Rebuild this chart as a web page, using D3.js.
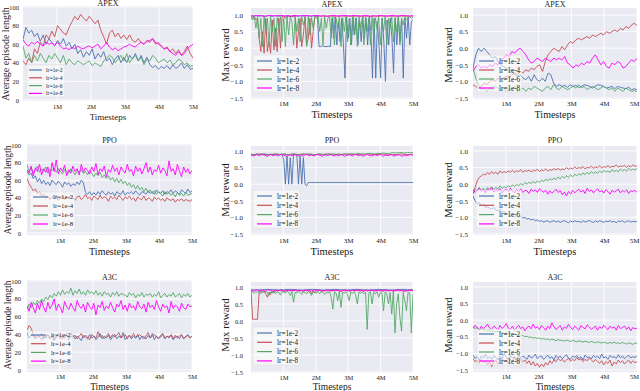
<!DOCTYPE html>
<html><head><meta charset="utf-8">
<script src="https://cdn.jsdelivr.net/npm/d3@7"></script>
<style>body{margin:0;background:#fff}svg{display:block}text{font-family:"Liberation Serif","Times New Roman",Times,serif;fill:#1a1a1a}</style>
</head><body><svg id="c" width="640" height="391"></svg>
<script>
const FONT = '"Liberation Serif","Times New Roman",Times,serif';
const seriesLabels = ["lr=1e-2","lr=1e-4","lr=1e-6","lr=1e-8"];
const seriesColors = ["#4C72B0","#C44E52","#55A868","#FF00FF"];
const xTickValues = [1e6,2e6,3e6,4e6,5e6];
const xTickLabels = ["1M","2M","3M","4M","5M"];
const lenTicks = [0,20,40,60,80,100];
const rewardTicks = [-1.5,-1.0,-0.5,0.0,0.5,1.0];
const algoTitles = ["APEX","PPO","A3C"];

// ---------- APEX : average episode length ----------
const apexLen_lr2 = [65,78,72,75,68,72,63,70,60,66,62,58,64,60,66,58,62,55,60,50,54,46,52,48,55,44,50,46,52,42,45,38,44,48,40,46,40,48,44,50,42,48,40,46,38,35,37,33,36,34,37,33,38,34,36,40,34,38,33,34];
const apexLen_lr4 = [42,38,45,40,55,50,62,58,70,66,74,68,80,76,72,70,78,84,90,86,92,88,85,90,86,82,86,75,68,60,72,75,68,72,66,70,65,70,64,62,66,62,60,64,62,66,60,62,58,55,57,52,55,50,54,48,52,58,50,45];
const apexLen_lr6 = [58,45,50,40,48,42,50,45,40,48,44,50,45,40,48,38,44,40,38,42,40,38,40,42,37,40,38,36,42,45,48,46,40,44,48,42,50,40,45,48,42,46,38,44,42,48,45,40,42,44,40,43,38,40,44,42,38,40,36,37];
const apexLen_lr8 = [65,60,58,62,60,63,60,58,62,60,61,59,62,58,55,56,54,57,55,58,56,55,57,58,56,58,60,55,58,62,57,54,56,53,55,57,58,60,58,57,60,62,60,63,64,66,62,60,58,55,56,52,50,48,52,48,50,55,58,60];

// ---------- APEX : max reward ----------
const apexMax_lr2 = [0.97,0.96,0.97,0.98,0.97,0.96,0.97,0.98,0.97,0.96,0.97,0.98,0.97,0.96,0.97,0.98,0.97,0.96,0.97,0.98,0.97,0.96,0.97,0.98,0.97,0.96,0.97,0.98,0.97,0.96,0.97,0.98,0.97,0.96,0.97,0.98,0.97,0.96,0.97,0.98,0.97,0.96,
  0.05,0.05,0.08,0.05,0.05,0.05,0.06,0.05,0.9,0.3,0.95,0.1,0.8,0.2,0.9,0.15,-0.9,0.95,0.3,0.9,0.1,0.95,0.4,0.9,0.1,0.85,0.2,0.95,0.3,0.9,0.1,0.95,0.5,-0.9,0.9,-0.9,0.8,0.1,-0.9,0.9,0.2,-1.0,0.85,0.1,0.9,0.3,-0.75,0.9,0.1,0.95,0.2,0.9,-0.9,0.9,0.3,0.95,0.1,0.8,0.85];
const apexMax_lr4 = [0.95,0.9,0.95,0.85,0.9,0.3,-0.1,0.5,-0.15,0.9,-0.1,0.2,-0.15,0.85,-0.05,0.6,-0.1,0.9,0.0,0.95,0.95,0.9,0.95,0.97,0.95,0.97,0.95,0.97,0.0,0.5,0.9,0.05,0.4,0.95,0.1,0.3,0.9,0.0,0.5,0.95,
  0.97,0.96,0.97,0.96,0.97,0.96,0.97,0.96,0.97,0.96,0.97,0.96,0.97,0.96,0.97,0.96,0.97,0.96,0.97,0.96,0.97,0.96,0.97,0.96,0.97,0.96,0.97,0.96,0.97,0.96,0.97,0.96,0.97,0.96,0.97,0.96,0.97,0.96,0.97,0.96,0.97,0.96,0.97,0.96,0.97,0.96,0.97,0.96,0.97,0.96,0.97,0.96,0.97,0.96,0.97,0.96,0.97,0.96,0.97,0.96];
const apexMax_lr6 = [0.92,0.85,0.95,0.6,0.95,0.3,0.9,0.05,0.95,0.45,0.9,0.1,0.95,0.5,0.9,0.05,0.92,0.6,0.95,0.2,0.9,0.05,0.95,0.4,0.95,0.8,0.1,0.95,0.5,0.9,0.2,0.95,0.7,0.9,0.05,0.95,0.4,0.92,0.6,0.95,0.9,0.95,0.5,0.9,0.1,0.95,0.6,0.9,0.95,0.3,0.95,0.1,0.9,0.6,0.95,0.05,0.92,0.5,0.95,0.2,0.9,0.1,0.95,0.4,0.92,0.05,0.95,0.6,0.9,0.1,0.95,0.5,0.9,0.1,0.95,0.3,0.92,0.6,0.95,0.1,0.9,0.5,0.95,0.1,0.9,0.6,0.95,0.2,0.92,0.5,0.95,0.1,0.9,0.7,0.95,0.85,0.92,0.95,0.9,0.92];
const apexMax_lr8 = [0.98,0.97,0.99,0.98,0.96,0.98,0.99,0.97,0.98,0.99,0.97,0.98,0.96,0.99,0.98,0.97,0.99,0.98,0.97,0.98,0.99,0.97,0.98,0.96,0.98,0.99,0.97,0.98,0.99,0.98,0.97,0.99,0.98,0.97,0.98,0.99,0.96,0.98,0.97,0.99,0.98,0.97,0.98,0.99,0.97,0.98,0.99,0.98,0.97,0.98];

// ---------- APEX : mean reward ----------
const apexMean_lr2 = [-0.6,-0.2,0.0,-0.1,0.0,-0.1,-0.2,-0.3,-0.25,-0.4,-0.5,-0.55,-0.6,-0.7,-0.65,-0.8,-0.85,-0.8,-0.9,-0.95,-0.85,-1.0,-0.8,-0.95,-1.0,-0.9,-1.0,-0.75,-0.8,-1.05,-1.15,-1.1,-1.15,-1.12,-1.18,-1.1,-1.15,-1.12,-1.18,-1.15,-1.1,-1.12,-1.15,-1.2,-1.15,-1.1,-1.12,-1.15,-1.2,-1.18,-1.15,-1.22,-1.15,-1.18,-1.2,-1.22,-1.18,-1.25,-1.22,-1.25];
const apexMean_lr4 = [-1.1,-1.15,-1.2,-1.15,-1.05,-1.1,-1.0,-0.95,-1.0,-0.9,-0.95,-0.9,-0.85,-0.9,-0.8,-0.75,-0.8,-0.7,-0.75,-0.65,-0.7,-0.6,-0.65,-0.55,-0.5,-0.7,-0.4,-0.2,-0.1,0.0,-0.05,-0.1,0.05,-0.05,0.1,0.2,0.15,0.25,0.3,0.25,0.3,0.35,0.3,0.4,0.35,0.4,0.45,0.4,0.5,0.45,0.5,0.55,0.5,0.6,0.55,0.65,0.6,0.7,0.75,0.68];
const apexMean_lr6 = [-0.6,-0.9,-1.1,-1.25,-1.2,-1.3,-1.2,-1.25,-1.15,-1.2,-1.25,-1.2,-1.3,-1.2,-1.25,-1.15,-1.3,-1.25,-1.2,-1.3,-1.2,-1.25,-1.15,-1.2,-1.25,-1.3,-1.2,-1.15,-1.25,-1.1,-1.2,-1.25,-1.15,-1.2,-1.25,-1.2,-1.15,-1.2,-1.1,-1.2,-1.15,-1.25,-1.2,-1.15,-1.2,-1.25,-1.2,-1.15,-1.2,-1.25,-1.2,-1.3,-1.2,-1.25,-1.3,-1.2,-1.25,-1.3,-1.28,-1.3];
const apexMean_lr8 = [-0.7,-0.55,-0.5,-0.6,-0.55,-0.6,-0.5,-0.55,-0.45,-0.5,-0.35,-0.3,-0.2,-0.25,-0.1,-0.15,-0.05,0.0,-0.1,-0.2,-0.35,-0.45,-0.4,-0.3,-0.35,-0.4,-0.3,-0.35,-0.4,-0.3,-0.35,-0.3,-0.35,-0.25,-0.45,-0.5,-0.6,-0.5,-0.55,-0.45,-0.5,-0.4,-0.45,-0.3,-0.2,-0.35,-0.5,-0.4,-0.55,-0.6,-0.45,-0.5,-0.4,-0.45,-0.6,-0.55,-0.45,-0.35,-0.4,-0.3];

// ---------- PPO : average episode length ----------
const ppoLen_lr2 = [70,66,68,62,65,58,62,56,60,55,58,54,60,57,55,59,56,52,58,55,57,53,56,54,58,55,60,57,46,44,47,43,46,43,47,44,48,45,43,47,44,46,42,47,45,44,48,43,46,45,47,44,48,45,43,47,46,44,48,45,47,44,49,46,45,48,44,47,46,49,45,48,46,44,49,47,45,50,46,48];
const ppoLen_lr4 = [62,56,52,48,50,45,47,42,44,40,42,38,41,39,43,37,40,42,38,41,39,43,40,37,41,42,38,40,44,39,41,37,42,40,38,43,39,41,40,36,42,39,41,38,43,40,37,41,39,42,38,40,36,41,39,38,42,37,40,39,36,41,38,40,37,39,36,40,38,37,39,35,38,37,39,36,38,37,36,38];
const ppoLen_lr6 = [78,70,74,68,72,76,69,73,70,75,68,72,71,74,69,73,70,67,72,70,68,73,70,66,71,69,72,68,70,66,71,68,64,68,65,69,63,66,62,65,60,63,58,62,57,61,56,59,54,57,52,55,50,54,49,52,47,51,46,49,45,48,44,47,45,42,47,44,46,43,45,41,46,43,45,42,46,43,44,45];
const ppoLen_lr8 = [72,68,76,65,74,70,78,66,73,69,75,64,80,70,83,67,74,70,77,65,72,68,76,70,73,66,78,69,74,71,67,75,70,79,66,73,70,76,64,72,69,77,70,74,66,75,71,68,78,70,72,65,76,70,74,67,73,80,69,75,66,72,70,77,68,74,71,65,82,70,73,66,78,70,64,75,69,73,67,71];

// ---------- PPO : max reward ----------
const ppoMax_lr2 = [0.9,0.89,0.9,0.88,0.9,0.89,0.9,0.88,0.9,0.89,0.9,0.88,0.9,0.89,0.9,0.88,0.9,0.89,0.9,0.88,0.75,0.0,0.85,0.0,0.8,0.0,0.9,0.88,0.9,0.0,0.85,0.0,0.8,0.0,-0.05,0.05,
  0.05,0.05,0.05,0.05,0.05,0.05,0.05,0.05,0.05,0.05,0.05,0.05,0.05,0.05,0.05,0.05,0.05,0.05,0.05,0.05,0.05,0.05,0.05,0.05,0.05,0.05,0.05,0.05,0.05,0.05,0.05,0.05,0.05,0.05,0.05,0.05,0.05,0.05,0.05,0.05,0.05,0.05,0.05,0.05,0.05,0.05,0.05,0.05,0.05,0.05,0.05,0.05,0.05,0.05,0.05,0.05,0.05,0.05,0.05,0.05,0.05,0.05,0.05,0.05];
const ppoMax_lr4 = [0.9,0.89,0.91,0.9,0.88,0.9,0.91,0.89,0.9,0.88,0.91,0.9,0.89,0.9,0.91,0.88,0.9,0.89,0.91,0.9,0.88,0.9,0.89,0.91,0.9,0.89,0.9,0.88,0.91,0.9,0.89,0.9,0.91,0.88,0.9,0.89,0.91,0.9,0.89,0.9];
const ppoMax_lr6 = [0.9,0.88,0.91,0.89,0.9,0.92,0.89,0.9,0.88,0.91,0.9,0.89,0.92,0.9,0.88,0.91,0.9,0.89,0.9,0.92,0.89,0.9,0.91,0.88,0.9,0.92,0.9,0.89,0.91,0.9,0.92,0.9,0.91,0.89,0.92,0.9,0.91,0.92,0.9,0.93,0.91,0.92,0.9,0.93,0.92,0.91,0.93,0.92,0.94,0.93,0.92,0.94,0.95,0.94,0.96,0.95,0.94,0.96,0.95,0.96];
const ppoMax_lr8 = [0.88,0.85,0.9,0.86,0.91,0.87,0.84,0.9,0.86,0.89,0.85,0.91,0.87,0.84,0.89,0.86,0.9,0.85,0.88,0.84,0.91,0.86,0.88,0.85,0.9,0.87,0.84,0.89,0.86,0.91,0.85,0.88,0.86,0.9,0.84,0.87,0.89,0.85,0.91,0.86,0.88,0.84,0.9,0.87,0.85,0.89,0.86,0.91,0.84,0.88,0.86,0.9,0.85,0.87,0.89,0.84,0.88,0.86,0.9,0.87];

// ---------- PPO : mean reward ----------
const ppoMean_lr2 = [-0.35,-0.5,-0.6,-0.55,-0.65,-0.6,-0.7,-0.68,-0.72,-0.75,-0.7,-0.78,-0.8,-0.75,-0.85,-0.82,-0.88,-0.9,-0.95,-0.92,-0.98,-0.95,-1.0,-0.97,-1.02,-1.0,-1.05,-1.03,-1.08,-1.05,-1.1,-1.08,-1.12,-1.1,-1.14,-1.12,-1.1,-1.15,-1.12,-1.1,-1.14,-1.11,-1.15,-1.12,-1.1,-1.13,-1.16,-1.11,-1.14,-1.1,-1.13,-1.12,-1.15,-1.1,-1.14,-1.12,-1.09,-1.13,-1.15,-1.11,-1.14,-1.1,-1.12,-1.15,-1.11,-1.13,-1.1,-1.14,-1.12,-1.16,-1.11,-1.13,-1.1,-1.15,-1.12,-1.1,-1.14,-1.12,-1.13,-1.12];
const ppoMean_lr4 = [-0.3,-0.1,0.1,0.2,0.25,0.3,0.28,0.35,0.3,0.38,0.32,0.36,0.3,0.4,0.34,0.38,0.35,0.4,0.36,0.42,0.35,0.4,0.38,0.44,0.36,0.41,0.39,0.43,0.37,0.42,0.4,0.45,0.38,0.43,0.41,0.46,0.4,0.44,0.42,0.47,0.43,0.48,0.42,0.46,0.44,0.5,0.45,0.49,0.46,0.52,0.47,0.5,0.48,0.53,0.46,0.51,0.49,0.54,0.48,0.52,0.5,0.55,0.49,0.53,0.51,0.56,0.5,0.54,0.52,0.58,0.51,0.55,0.53,0.57,0.5,0.56,0.52,0.58,0.54,0.55];
const ppoMean_lr6 = [-0.25,-0.15,-0.2,-0.1,-0.18,-0.12,-0.2,-0.1,-0.15,-0.08,-0.16,-0.1,-0.14,-0.05,-0.12,-0.08,-0.1,-0.04,-0.09,-0.02,-0.07,0.0,-0.05,0.02,-0.03,0.05,0.0,0.06,0.02,0.08,0.03,0.1,0.05,0.12,0.08,0.15,0.1,0.17,0.12,0.19,0.14,0.22,0.16,0.24,0.18,0.26,0.2,0.28,0.22,0.3,0.25,0.32,0.27,0.34,0.29,0.36,0.3,0.38,0.32,0.37,0.33,0.4,0.34,0.42,0.36,0.4,0.35,0.44,0.38,0.42,0.37,0.46,0.4,0.44,0.39,0.48,0.42,0.46,0.43,0.47];
const ppoMean_lr8 = [-0.15,-0.25,-0.18,-0.12,-0.22,-0.16,-0.26,-0.14,-0.2,-0.1,-0.24,-0.17,-0.21,-0.13,-0.27,-0.19,-0.15,-0.23,-0.12,-0.2,-0.26,-0.16,-0.22,-0.14,-0.25,-0.18,-0.2,-0.28,-0.15,-0.22,-0.17,-0.25,-0.13,-0.2,-0.24,-0.18,-0.3,-0.2,-0.27,-0.22,-0.15,-0.25,-0.19,-0.32,-0.24,-0.35,-0.22,-0.3,-0.18,-0.26,-0.2,-0.15,-0.24,-0.18,-0.28,-0.12,-0.22,-0.17,-0.26,-0.2,-0.14,-0.23,-0.19,-0.27,-0.16,-0.22,-0.3,-0.18,-0.24,-0.2,-0.15,-0.26,-0.19,-0.23,-0.17,-0.28,-0.2,-0.22,-0.18,-0.25];

// ---------- A3C : average episode length ----------
const a3cLen_lr2 = [42,36,40,38,35,39,37,34,38,36,40,35,38,33,37,39,35,38,36,41,34,37,39,35,38,36,33,39,37,35,40,36,38,34,37,41,35,38,36,39,34,37,40,35,38,36,42,34,37,39,35,38,36,40,34,38,37,35,39,36,41,34,38,36,37,40,35,38,36,39,34,37,38,35,39,36,37,40,36,38];
const a3cLen_lr4 = [45,50,47,40,36,39,37,41,35,38,40,36,39,34,38,41,37,35,40,38,36,42,37,39,35,38,41,36,39,37,34,40,38,36,43,37,39,35,38,41,36,40,37,39,42,36,38,40,35,39,37,41,36,38,40,37,35,39,42,36,38,40,37,35,39,41,36,38,37,40,35,39,36,38,40,35,37,39,36,38];
const a3cLen_lr6 = [68,74,70,76,73,78,75,80,77,82,79,84,81,86,83,88,84,90,85,88,86,92,84,89,86,91,85,88,84,90,86,88,85,89,84,87,83,88,85,86,82,87,84,88,83,86,85,84,82,87,84,86,81,85,83,87,82,85,84,86,82,85,83,88,81,84,86,82,85,83,87,82,84,86,81,85,83,86,82,84];
const a3cLen_lr8 = [72,66,76,70,64,75,68,78,70,65,76,69,73,80,67,74,70,64,77,71,68,75,70,66,78,72,69,74,65,76,71,68,75,62,73,70,77,67,72,69,76,70,65,74,71,78,68,73,66,75,70,72,67,77,71,69,74,65,76,70,73,68,78,71,66,74,70,72,64,77,69,73,71,66,75,70,68,74,71,72];

// ---------- A3C : max reward ----------
const a3cMax_lr2 = [0.92,0.91,0.92,0.93,0.92,0.91,0.92,0.93,0.92,0.91,0.92,0.93,0.92,0.91,0.92,0.93,0.92,0.91,0.92,0.93,0.92,0.91,0.92,0.93,0.92,0.91,0.92,0.93,0.92,0.92];
const a3cMax_lr4 = [0.9,0.05,0.05,0.05,0.05,0.85,0.88,0.85,0.9,0.8,0.7,0.85,0.78,0.88,0.82,0.9,0.88,0.9,0.89,0.9,0.88,0.9,0.89,0.9,0.88,0.9,0.89,0.9,0.88,0.9,0.89,0.9,0.88,0.9,0.89,0.9,0.88,0.8,0.9,0.82,0.9,0.89,0.9,0.88,0.9,0.89,0.9,0.88,0.9,0.89,0.9,0.88,0.9,0.89,0.9,0.88,0.9,0.89,0.9,0.88,0.9,0.89,0.9,0.88,0.9,0.89,0.9,0.88,0.9,0.89,0.9,0.88,0.9,0.89,0.9,0.88,0.9,0.89,0.9,0.88,0.9,0.89,0.9,0.88,0.9,0.89,0.9,0.88,0.9,0.89,0.9,0.88,0.9,0.89,0.9,0.88,0.9,0.89,0.9,0.9];
const a3cMax_lr6 = [0.88,0.85,0.82,0.86,0.84,0.88,0.8,0.86,0.84,0.87,0.85,0.75,0.86,0.83,0.88,0.8,0.86,0.84,0.76,0.87,0.85,0.82,0.88,0.84,0.75,0.86,0.55,0.85,0.82,0.87,0.84,0.78,0.86,0.84,0.8,0.87,0.83,0.75,0.86,0.85,0.82,0.86,0.8,0.87,0.84,0.78,0.85,0.82,0.86,0.7,0.35,0.85,0.82,0.6,0.86,0.4,0.84,0.82,0.86,0.78,0.6,0.85,0.82,0.86,0.75,0.5,0.86,0.82,0.84,0.8,0.85,-0.25,0.82,0.86,0.5,0.84,0.8,0.86,0.7,0.84,0.82,0.3,0.86,0.8,0.5,0.84,0.2,0.86,-0.35,0.5,0.8,0.1,-0.3,0.84,0.6,0.3,0.85,0.82,-0.35,0.8];
const a3cMax_lr8 = [0.9,0.88,0.92,0.89,0.91,0.87,0.92,0.9,0.88,0.91,0.89,0.92,0.87,0.9,0.91,0.88,0.92,0.89,0.9,0.87,0.91,0.9,0.88,0.92,0.89,0.91,0.87,0.9,0.92,0.88,0.9,0.91,0.89,0.87,0.92,0.9,0.88,0.91,0.89,0.92,0.9,0.87,0.91,0.89,0.92,0.88,0.9,0.91,0.87,0.92,0.89,0.9,0.88,0.91,0.92,0.89,0.87,0.9,0.91,0.89];

// ---------- A3C : mean reward ----------
const a3cMean_lr2 = [-1.05,-1.15,-1.1,-1.2,-1.08,-1.14,-1.02,-1.16,-1.1,-1.18,-1.06,-1.12,-1.2,-1.08,-1.15,-1.0,-1.12,-1.18,-1.06,-1.14,-1.1,-1.2,-1.04,-1.15,-1.08,-1.12,-1.18,-1.05,-1.14,-1.1,-1.02,-1.16,-1.1,-1.08,-1.18,-1.12,-1.05,-1.15,-1.1,-1.2,-1.06,-1.13,-1.08,-1.16,-1.1,-1.04,-1.14,-1.18,-1.08,-1.12,-1.06,-1.15,-1.1,-1.2,-1.05,-1.13,-1.1,-1.17,-1.06,-1.12,-1.08,-1.16,-1.02,-1.14,-1.1,-1.18,-1.06,-1.12,-1.1,-1.15,-1.04,-1.13,-1.08,-1.16,-1.1,-1.06,-1.14,-1.1,-1.12,-1.08];
const a3cMean_lr4 = [-1.15,-1.25,-1.2,-1.3,-1.18,-1.28,-1.22,-1.35,-1.25,-1.4,-1.28,-1.2,-1.32,-1.22,-1.15,-1.25,-1.2,-1.3,-1.18,-1.24,-1.12,-1.22,-1.28,-1.18,-1.25,-1.2,-1.3,-1.22,-1.35,-1.25,-1.38,-1.3,-1.42,-1.32,-1.4,-1.28,-1.35,-1.22,-1.3,-1.2,-1.25,-1.15,-1.22,-1.18,-1.26,-1.2,-1.15,-1.24,-1.18,-1.22,-1.12,-1.2,-1.16,-1.25,-1.18,-1.22,-1.14,-1.2,-1.26,-1.18,-1.24,-1.3,-1.22,-1.35,-1.25,-1.3,-1.2,-1.38,-1.26,-1.32,-1.2,-1.28,-1.22,-1.32,-1.25,-1.2,-1.3,-1.22,-1.28,-1.25];
const a3cMean_lr6 = [-0.2,-0.25,-0.22,-0.28,-0.26,-0.3,-0.28,-0.33,-0.3,-0.35,-0.33,-0.36,-0.34,-0.38,-0.36,-0.4,-0.38,-0.41,-0.4,-0.43,-0.42,-0.45,-0.44,-0.47,-0.46,-0.5,-0.48,-0.52,-0.5,-0.54,-0.52,-0.55,-0.53,-0.57,-0.55,-0.58,-0.56,-0.6,-0.57,-0.59,-0.62,-0.58,-0.61,-0.6,-0.63,-0.6,-0.62,-0.64,-0.61,-0.63,-0.65,-0.62,-0.64,-0.66,-0.63,-0.65,-0.67,-0.64,-0.66,-0.68,-0.65,-0.67,-0.69,-0.66,-0.68,-0.7,-0.67,-0.69,-0.66,-0.7,-0.68,-0.71,-0.67,-0.7,-0.72,-0.68,-0.7,-0.73,-0.69,-0.7];
const a3cMean_lr8 = [-0.25,-0.15,-0.22,-0.3,-0.18,-0.26,-0.2,-0.12,-0.24,-0.28,-0.18,-0.22,-0.3,-0.16,-0.25,-0.2,-0.1,-0.24,-0.28,-0.18,-0.3,-0.22,-0.15,-0.26,-0.2,-0.32,-0.22,-0.18,-0.26,-0.12,-0.24,-0.2,-0.28,-0.16,-0.22,-0.3,-0.18,-0.25,-0.08,-0.2,-0.28,-0.22,-0.16,-0.3,-0.2,-0.25,-0.12,-0.22,-0.28,-0.18,-0.24,-0.3,-0.16,-0.22,-0.26,-0.14,-0.2,-0.28,-0.22,-0.18,-0.3,-0.2,-0.25,-0.15,-0.22,-0.28,-0.18,-0.24,-0.2,-0.3,-0.16,-0.25,-0.22,-0.18,-0.28,-0.2,-0.32,-0.22,-0.26,-0.24];

// ---------- panel layout ----------
function lenPanel(o){return Object.assign({yDom:[0,100],ticks:lenTicks,fmt:d3.format("d"),ylabel:"Average episode length"},o);}
function rewPanel(o){return Object.assign({yDom:[-1.5,1.0],ticks:rewardTicks,fmt:d3.format(".1f")},o);}
const panels = [
  lenPanel({title:algoTitles[0],series:[apexLen_lr2,apexLen_lr4,apexLen_lr6,apexLen_lr8],left:23,right:193,top:6,bottom:101,yPix:[100,7],titleY:3,ylx:5,yly:54,ylfs:10,tickR:19,tfs:6.5,xtY:107,xlY:117,xlfs:9,tifs:8,
    leg:{x:27,y:65,w:38,h:32,y0:70,dy:7.8,lx0:29,lx1:42,tx:46,fs:5.6}}),
  rewPanel({title:algoTitles[0],ylabel:"Max reward",series:[apexMax_lr2,apexMax_lr4,apexMax_lr6,apexMax_lr8],left:251,right:413,top:8,bottom:99,yPix:[98,15],titleY:4,ylx:225,yly:55,ylfs:11,tickR:243,tfs:7,xtY:104,xlY:114.5,xlfs:10,tifs:8,
    leg:{x:253,y:55,w:49,h:37,y0:61,dy:9,lx0:257,lx1:272,tx:277,fs:7.5}}),
  rewPanel({title:algoTitles[0],ylabel:"Mean reward",series:[apexMean_lr2,apexMean_lr4,apexMean_lr6,apexMean_lr8],left:473,right:637,top:8,bottom:99,yPix:[98,15],titleY:4,ylx:448,yly:55,ylfs:10.5,tickR:468,tfs:7,xtY:104,xlY:114.5,xlfs:10,tifs:8,lastShift:-3,
    leg:{x:477,y:55,w:45,h:37,y0:61,dy:9,lx0:479,lx1:494,tx:499,fs:7.2}}),
  lenPanel({title:algoTitles[1],series:[ppoLen_lr2,ppoLen_lr4,ppoLen_lr6,ppoLen_lr8],left:27,right:192,top:144,bottom:235,yPix:[233,145],titleY:140,ylx:8,yly:190,ylfs:9.5,tickR:21,tfs:6.5,xtY:241,xlY:251,xlfs:10,tifs:8,
    leg:{x:30,y:192,w:45,h:38,y0:197,dy:9,lx0:33,lx1:48,tx:53,fs:6.8}}),
  rewPanel({title:algoTitles[1],ylabel:"Max reward",series:[ppoMax_lr2,ppoMax_lr4,ppoMax_lr6,ppoMax_lr8],left:251,right:413,top:146,bottom:235,yPix:[234,151],titleY:140,ylx:225,yly:190,ylfs:11,tickR:243,tfs:7,xtY:241,xlY:251,xlfs:10.5,tifs:8,
    leg:{x:253,y:190,w:47,h:38,y0:196,dy:9.3,lx0:257,lx1:272,tx:277,fs:7.2}}),
  rewPanel({title:algoTitles[1],ylabel:"Mean reward",series:[ppoMean_lr2,ppoMean_lr4,ppoMean_lr6,ppoMean_lr8],left:473,right:637,top:146,bottom:235,yPix:[234,151],titleY:140,ylx:448,yly:190,ylfs:10.5,tickR:468,tfs:7,xtY:241,xlY:251,xlfs:10.5,tifs:8,lastShift:-3,
    leg:{x:476,y:190,w:46,h:38,y0:196,dy:9.3,lx0:479,lx1:494,tx:499,fs:7.2}}),
  lenPanel({title:algoTitles[2],series:[a3cLen_lr2,a3cLen_lr4,a3cLen_lr6,a3cLen_lr8],left:27,right:192,top:280,bottom:372,yPix:[370,281],titleY:277,ylx:8,yly:325,ylfs:9.5,tickR:21,tfs:6.5,xtY:377,xlY:386.5,xlfs:9.5,tifs:8,
    leg:{x:28,y:331,w:45,h:34,y0:335,dy:8.7,lx0:31,lx1:46,tx:51,fs:6.6}}),
  rewPanel({title:algoTitles[2],ylabel:"Max reward",series:[a3cMax_lr2,a3cMax_lr4,a3cMax_lr6,a3cMax_lr8],left:251,right:413,top:282,bottom:373,yPix:[372,287],titleY:277,ylx:225,yly:325,ylfs:11,tickR:243,tfs:6.5,xtY:377.5,xlY:386.5,xlfs:9.5,tifs:8,
    leg:{x:253,y:327,w:47,h:38,y0:333,dy:9.3,lx0:257,lx1:272,tx:277,fs:7.2}}),
  rewPanel({title:algoTitles[2],ylabel:"Mean reward",series:[a3cMean_lr2,a3cMean_lr4,a3cMean_lr6,a3cMean_lr8],left:473,right:637,top:282,bottom:372,yPix:[370,287],titleY:277,ylx:448,yly:325,ylfs:10.5,tickR:468,tfs:6.5,xtY:377,xlY:386.5,xlfs:9.5,tifs:8,lastShift:-3,
    leg:{x:477,y:329,w:45,h:36,y0:334,dy:9,lx0:479,lx1:494,tx:499,fs:7.2}})
];

const svg = d3.select("#c");
panels.forEach((p, pi) => {
  const g = svg.append("g");
  const x = d3.scaleLinear().domain([0, 5e6]).range([p.left, p.right]);
  const y = d3.scaleLinear().domain(p.yDom).range(p.yPix);
  const clipId = "clip" + pi;
  g.append("clipPath").attr("id", clipId).append("rect")
    .attr("x", p.left).attr("y", p.top).attr("width", p.right - p.left).attr("height", p.bottom - p.top);
  g.append("rect").attr("x", p.left).attr("y", p.top).attr("width", p.right - p.left).attr("height", p.bottom - p.top).attr("fill", "#EAEAF2");
  // grid
  g.selectAll(".gx").data(xTickValues).join("line")
    .attr("x1", d => x(d)).attr("x2", d => x(d)).attr("y1", p.top).attr("y2", p.bottom)
    .attr("stroke", "#fff").attr("stroke-width", 0.9);
  g.selectAll(".gy").data(p.ticks).join("line")
    .attr("x1", p.left).attr("x2", p.right).attr("y1", d => y(d)).attr("y2", d => y(d))
    .attr("stroke", "#fff").attr("stroke-width", 0.9);
  // series
  const lines = g.append("g").attr("clip-path", `url(#${clipId})`);
  p.series.forEach((arr, si) => {
    const n = arr.length;
    const line = d3.line().x((d, j) => x(j / (n - 1) * 5e6)).y(d => y(d));
    lines.append("path").attr("d", line(arr)).attr("fill", "none")
      .attr("stroke", seriesColors[si]).attr("stroke-width", 0.9).attr("stroke-linejoin", "round");
  });
  // y axis
  const ya = g.append("g").attr("transform", `translate(${p.tickR},0)`)
    .call(d3.axisLeft(y).tickValues(p.ticks).tickSize(0).tickPadding(0).tickFormat(p.fmt));
  ya.select(".domain").remove();
  ya.attr("font-family", FONT);
  ya.selectAll("text").attr("font-size", p.tfs).style("font-family", FONT).attr("fill", "#1a1a1a");
  // x axis
  const xa = g.append("g").attr("transform", `translate(0,${p.xtY})`)
    .call(d3.axisBottom(x).tickValues(xTickValues).tickSize(0).tickPadding(0).tickFormat((d, i) => xTickLabels[i]));
  xa.select(".domain").remove();
  xa.attr("font-family", FONT);
  xa.selectAll("text").attr("dy", "0.35em").attr("font-size", p.tfs).style("font-family", FONT).attr("fill", "#1a1a1a")
    .attr("x", (d, i) => (i === xTickValues.length - 1 && p.lastShift) ? p.lastShift : 0);
  // labels
  g.append("text").attr("x", (p.left + p.right) / 2).attr("y", p.titleY).attr("dy", "0.35em")
    .attr("text-anchor", "middle").attr("font-size", p.tifs).text(p.title);
  g.append("text").attr("x", (p.left + p.right) / 2).attr("y", p.xlY).attr("dy", "0.35em")
    .attr("text-anchor", "middle").attr("font-size", p.xlfs).text("Timesteps");
  g.append("text").attr("transform", `translate(${p.ylx},${p.yly}) rotate(-90)`).attr("dy", "0.35em")
    .attr("text-anchor", "middle").attr("font-size", p.ylfs).text(p.ylabel);
  // legend
  const L = p.leg;
  const lg = g.append("g");
  lg.append("rect").attr("x", L.x).attr("y", L.y).attr("width", L.w).attr("height", L.h).attr("rx", 2)
    .attr("fill", "#fff").attr("fill-opacity", 0.55).attr("stroke", "#d8d8d8").attr("stroke-width", 0.5);
  seriesLabels.forEach((lab, si) => {
    const yy = L.y0 + si * L.dy;
    lg.append("line").attr("x1", L.lx0).attr("x2", L.lx1).attr("y1", yy).attr("y2", yy)
      .attr("stroke", seriesColors[si]).attr("stroke-width", 1.2);
    lg.append("text").attr("x", L.tx).attr("y", yy).attr("dy", "0.35em").attr("font-size", L.fs).text(lab);
  });
});
</script></body></html>
